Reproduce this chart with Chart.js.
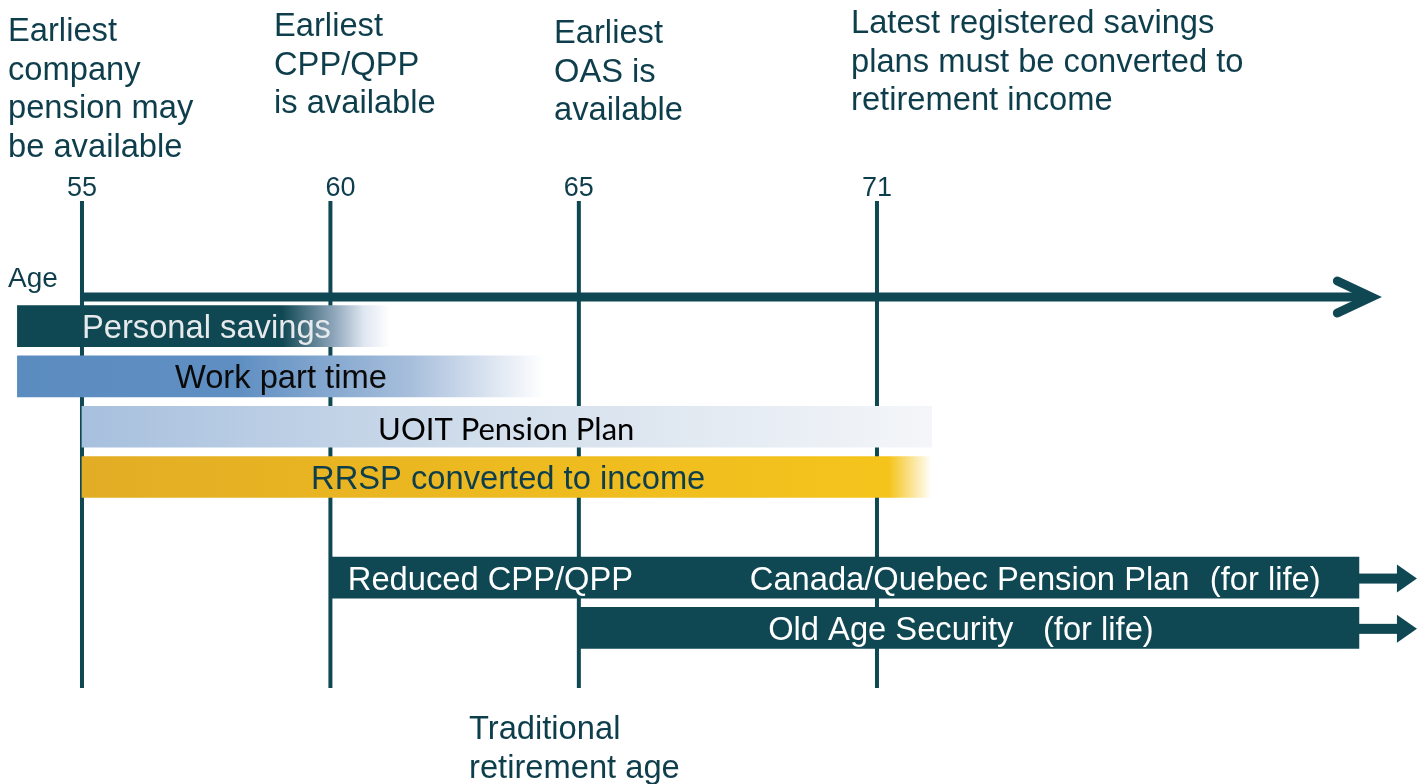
<!DOCTYPE html>
<html>
<head>
<meta charset="utf-8">
<title>Retirement income timeline</title>
<script src="https://cdn.jsdelivr.net/npm/chart.js@4"></script>
<style>
  body { margin: 0; background: #fff; }
  canvas { display: block; }
</style>
</head>
<body>
<canvas id="timeline" width="1427" height="784"></canvas>
<script>
// rows of the timeline (blank row = gap between bands)
const rows = ["Personal savings", "Work part time", "UOIT Pension Plan", "RRSP converted to income", "", "Canada/Quebec Pension Plan", "Old Age Security"];
const startAge = [53.7, 53.7, 55.0, 55.0, null, 60, 65];
const endAge = [61.2, 64.3, 72.1, 72.1, null, 80.7, 80.7];
const arrowRows = [5, 6]; // bands that continue for life

const milestoneAges = [55, 60, 65, 71];
const milestoneTicks = ["55", "60", "65", "71"];
const milestoneNotes = [
  ["Earliest", "company", "pension may", "be available"],
  ["Earliest", "CPP/QPP", "is available"],
  ["Earliest", "OAS is", "available"],
  ["Latest registered savings", "plans must be converted to", "retirement income"],
];
const bottomNote = ["Traditional", "retirement age"];
const axisTitle = "Age";
const axisEndAge = 80.95;

const TEAL = "#0f4753";
const TEXT = "#0e3e4c";
const FONT = "Liberation Sans, Arial, sans-serif";

// colour stops along each band (0 = start, 1 = end)
const bandStops = [
  [[0, TEAL], [0.71, TEAL], [0.85, "#8fa6bb"], [0.93, "#dfe7f1"], [1, "#ffffff"]],
  [[0, "#5b8cc0"], [0.42, "#5f8fc2"], [0.75, "#a8bfdc"], [0.9, "#dce5f1"], [1, "#ffffff"]],
  [[0, "#a7c0de"], [0.5, "#d3dfec"], [1, "#f4f6f9"]],
  [[0, "#e2ad25"], [0.5, "#edba20"], [0.95, "#f5c41c"], [1, "#ffffff"]],
  [[0, "#fff"], [1, "#fff"]],
  [[0, TEAL], [1, TEAL]],
  [[0, TEAL], [1, TEAL]],
];

function bandColor(ctx) {
  const i = ctx.dataIndex;
  const chart = ctx.chart;
  if (!chart.chartArea || !chart.scales.x || startAge[i] == null) return bandStops[i][0][1];
  const xs = chart.scales.x;
  const g = chart.ctx.createLinearGradient(xs.getPixelForValue(startAge[i]), 0, xs.getPixelForValue(endAge[i]), 0);
  bandStops[i].forEach(([p, c]) => g.addColorStop(p, c));
  return g;
}

// text drawn inside the bands
const bandLabels = [
  { row: 0, text: "Personal savings", age: 55.0, color: "#e6eaec" },
  { row: 1, text: "Work part time", age: 56.87, color: "#0a0a0a" },
  { row: 2, text: "UOIT Pension Plan", age: 60.96, color: "#000000", font: "Lato, 'Open Sans', sans-serif" },
  { row: 3, text: "RRSP converted to income", age: 59.61, color: TEXT },
  { row: 5, text: "Reduced CPP/QPP", age: 60.35, color: "#ffffff" },
  { row: 5, text: "Canada/Quebec Pension Plan", age: 68.44, color: "#ffffff" },
  { row: 5, text: "(for life)", age: 77.7, color: "#ffffff" },
  { row: 6, text: "Old Age Security", age: 68.81, color: "#ffffff" },
  { row: 6, text: "(for life)", age: 74.34, color: "#ffffff" },
];

const timelinePlugin = {
  id: "timeline",
  beforeDatasetsDraw(chart) {
    const ctx = chart.ctx;
    const xs = chart.scales.x;
    ctx.save();
    // milestone lines behind the bands
    ctx.strokeStyle = TEAL;
    ctx.lineWidth = 4;
    milestoneAges.forEach((a) => {
      const x = xs.getPixelForValue(a);
      ctx.beginPath();
      ctx.moveTo(x, 201);
      ctx.lineTo(x, 688);
      ctx.stroke();
    });
    ctx.restore();
  },
  afterDatasetsDraw(chart) {
    const ctx = chart.ctx;
    const xs = chart.scales.x;
    const ys = chart.scales.y;
    ctx.save();

    // age axis arrow
    const ax0 = xs.getPixelForValue(55);
    const ax1 = xs.getPixelForValue(axisEndAge);
    const ay = 297;
    ctx.strokeStyle = TEAL;
    ctx.lineWidth = 9;
    ctx.lineCap = "butt";
    ctx.beginPath();
    ctx.moveTo(ax0 - 2, ay);
    ctx.lineTo(ax1 - 6, ay);
    ctx.stroke();
    ctx.lineCap = "round";
    ctx.lineJoin = "miter";
    ctx.beginPath();
    ctx.moveTo(ax1 - 34, ay - 16);
    ctx.lineTo(ax1, ay);
    ctx.lineTo(ax1 - 34, ay + 16);
    ctx.stroke();

    // arrows after the lifetime bands
    ctx.fillStyle = TEAL;
    arrowRows.forEach((r) => {
      const x = xs.getPixelForValue(endAge[r]);
      const y = ys.getPixelForValue(r) + 1;
      ctx.fillRect(x, y - 5, 40, 10);
      ctx.beginPath();
      ctx.moveTo(x + 38, y - 14);
      ctx.lineTo(x + 58, y);
      ctx.lineTo(x + 38, y + 14);
      ctx.closePath();
      ctx.fill();
    });

    // band labels
    ctx.textBaseline = "middle";
    ctx.textAlign = "left";
    bandLabels.forEach((l) => {
      ctx.font = (l.font ? "31px " + l.font : "32.7px " + FONT);
      ctx.fillStyle = l.color;
      ctx.fillText(l.text, xs.getPixelForValue(l.age), ys.getPixelForValue(l.row) + 3);
    });

    // milestone tick labels and notes
    ctx.textBaseline = "alphabetic";
    ctx.fillStyle = TEXT;
    ctx.font = "27px " + FONT;
    ctx.textAlign = "center";
    const tickShift = [0, 10, 0, 0];
    milestoneTicks.forEach((t, i) => {
      ctx.fillText(t, xs.getPixelForValue(milestoneAges[i]) + tickShift[i], 196);
    });

    ctx.textAlign = "left";
    ctx.font = "28px " + FONT;
    ctx.fillText(axisTitle, 8, 287);

    ctx.font = "32.7px " + FONT;
    const noteX = [8, 274, 554, 851];
    const noteTop = [41, 36, 43, 33];
    milestoneNotes.forEach((lines, i) => {
      lines.forEach((s, j) => ctx.fillText(s, noteX[i], noteTop[i] + j * 38.7));
    });
    bottomNote.forEach((s, j) => ctx.fillText(s, 469, 739 + j * 38.7));

    ctx.restore();
  },
};

new Chart(document.getElementById("timeline"), {
  type: "bar",
  data: {
    labels: rows,
    datasets: [
      {
        data: rows.map((r, i) => (startAge[i] == null ? null : [startAge[i], endAge[i]])),
        backgroundColor: bandColor,
        borderWidth: 0,
        barThickness: 41,
      },
    ],
  },
  options: {
    indexAxis: "y",
    responsive: false,
    animation: false,
    layout: { padding: { top: 301, bottom: 131, left: 0, right: 0 } },
    scales: {
      x: { type: "linear", min: 53.35, max: 82.07, display: false },
      y: { display: false },
    },
    plugins: {
      legend: { display: false },
      tooltip: { enabled: false },
    },
  },
  plugins: [timelinePlugin],
});
</script>
</body>
</html>
